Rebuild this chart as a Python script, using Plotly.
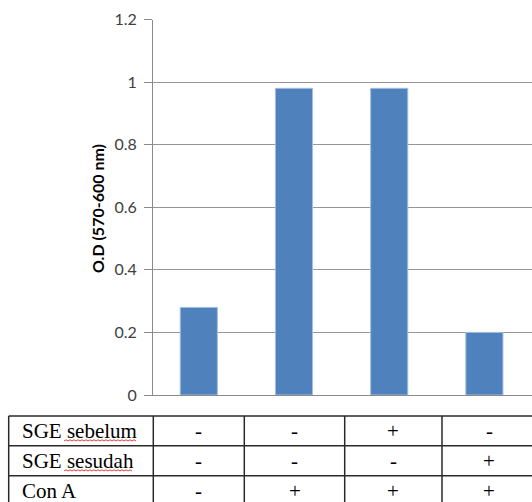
import plotly.graph_objects as go

W, H = 532, 502

# Optical density per treatment group
group_pos = [0, 1, 2, 3]
od_values = [0.28, 0.98, 0.98, 0.20]

y_ticks = [0, 0.2, 0.4, 0.6, 0.8, 1, 1.2]
y_tick_labels = ["0", "0.2", "0.4", "0.6", "0.8", "1", "1.2"]

# Treatment table under the chart
row_labels = ["SGE sebelum", "SGE sesudah", "Con A"]
sge_sebelum = ["-", "-", "+", "-"]
sge_sesudah = ["-", "-", "-", "+"]
con_a = ["-", "+", "+", "+"]
table_rows = [sge_sebelum, sge_sesudah, con_a]


def px(x):
    return x / W


def py(y):
    return 1 - y / H


fig = go.Figure()
fig.add_trace(go.Bar(
    x=group_pos, y=od_values, width=0.39,
    marker=dict(color="#4F81BD", line=dict(color="#A3BEE0", width=1)),
    hoverinfo="skip",
))

# plot area in pixels
PL, PR, PT, PB = 153, 532, 19.5, 395

fig.update_layout(
    width=W, height=H,
    margin=dict(l=0, r=0, t=0, b=0, autoexpand=False),
    paper_bgcolor="white", plot_bgcolor="white",
    showlegend=False,
    font=dict(family="Lato", color="#404040"),
    xaxis=dict(domain=[px(PL), px(PR)], range=[-0.481, 3.5],
               showticklabels=False, ticks="", showgrid=False,
               zeroline=False, showline=True, linecolor="#8a8a8a",
               linewidth=1),
    yaxis=dict(domain=[py(PB), py(PT)], range=[0, 1.2],
               tickvals=y_ticks, ticktext=y_tick_labels,
               tickfont=dict(size=16, color="#404040", family="Lato"),
               ticks="outside", ticklen=8, tickcolor="#8a8a8a",
               showgrid=True, gridcolor="#969696", gridwidth=1,
               zeroline=False, showline=True, linecolor="#8a8a8a",
               linewidth=1, ticklabelstandoff=4),
)

annotations = []
shapes = []

# axis title
annotations.append(dict(
    text="<b>O.D (570-600 nm)</b>", x=px(97), y=py(209),
    xref="paper", yref="paper", showarrow=False, textangle=-90,
    font=dict(family="Lato", size=16, color="#000000"),
    xanchor="center", yanchor="middle"))

# table grid
row_lines = [416, 445.7, 475.7, 505.5]
col_lines = [8.7, 153.3, 244.3, 344.7, 442, 536]
for yl in row_lines:
    shapes.append(dict(type="line", xref="paper", yref="paper",
                       x0=px(col_lines[0]), x1=px(col_lines[-1]),
                       y0=py(yl), y1=py(yl),
                       line=dict(color="#2a2a2a", width=1.5)))
for xl in col_lines:
    shapes.append(dict(type="line", xref="paper", yref="paper",
                       x0=px(xl), x1=px(xl),
                       y0=py(row_lines[0]), y1=py(row_lines[-1]),
                       line=dict(color="#2a2a2a", width=1.5)))

serif = dict(family="Liberation Serif", size=21, color="#000000")
for r, (label, vals) in enumerate(zip(row_labels, table_rows)):
    yc = (row_lines[r] + row_lines[r + 1]) / 2
    annotations.append(dict(text=label, x=px(19.5), y=py(yc), xref="paper",
                            yref="paper", showarrow=False, xanchor="left",
                            yanchor="middle", font=serif))
    for c, v in enumerate(vals):
        xc = (col_lines[c + 1] + col_lines[c + 2]) / 2
        annotations.append(dict(text=v, x=px(xc), y=py(yc), xref="paper",
                                yref="paper", showarrow=False,
                                xanchor="center", yanchor="middle",
                                font=serif))

# spell-check squiggles under the Indonesian words
for x0, x1, yb in [(64, 136, 441), (64, 132, 471)]:
    path = f"M {px(x0)} {py(yb)}"
    x, up = x0, True
    while x < x1:
        x += 2
        path += f" L {px(x)} {py(yb - (1.2 if up else 0))}"
        up = not up
    shapes.append(dict(type="path", xref="paper", yref="paper", path=path,
                       line=dict(color="#e03c3c", width=1)))

fig.update_layout(annotations=annotations, shapes=shapes)
fig.write_html("out.html")
